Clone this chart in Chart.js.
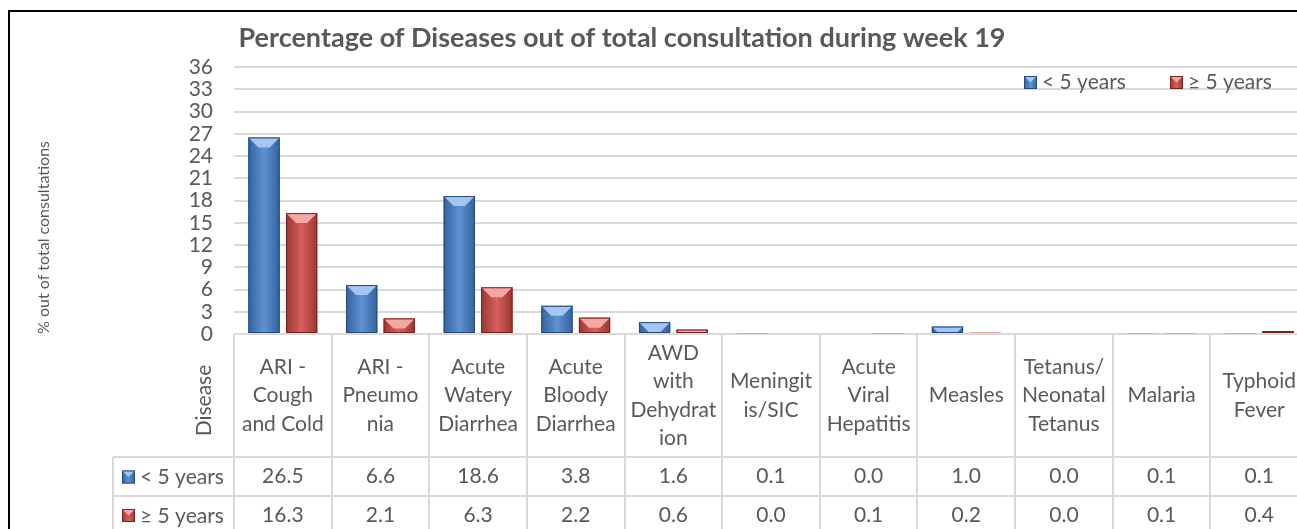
<!DOCTYPE html>
<html>
<head>
<meta charset="utf-8">
<script src="https://cdn.jsdelivr.net/npm/chart.js@4/dist/chart.umd.min.js"></script>
<style>
    html, body { margin: 0; padding: 0; background: #fff; overflow: hidden; }
    canvas { display: block; }
</style>
</head>
<body>
<canvas id="diseaseChart" width="1330" height="529"></canvas>
<script>
// 데이터
const chartTitle = 'Percentage of Diseases out of total consultation during week 19';
const categories = [
    ['ARI -', 'Cough', 'and Cold'],
    ['ARI -', 'Pneumo', 'nia'],
    ['Acute', 'Watery', 'Diarrhea'],
    ['Acute', 'Bloody', 'Diarrhea'],
    ['AWD', 'with', 'Dehydrat', 'ion'],
    ['Meningit', 'is/SIC'],
    ['Acute', 'Viral', 'Hepatitis'],
    ['Measles'],
    ['Tetanus/', 'Neonatal', 'Tetanus'],
    ['Malaria'],
    ['Typhoid', 'Fever']
];
const under5 = [26.5, 6.6, 18.6, 3.8, 1.6, 0.1, 0.0, 1.0, 0.0, 0.1, 0.1];
const over5 = [16.3, 2.1, 6.3, 2.2, 0.6, 0.0, 0.1, 0.2, 0.0, 0.1, 0.4];
const seriesNames = ['< 5 years', '≥ 5 years'];
const yMax = 36;
const yStep = 3;

const FONT = 'Lato, "DejaVu Sans", sans-serif';
const TEXT = '#595959';
const GRID = '#d9d9d9';
const palette = [
    { base: '#4f81bd', dark: '#33639f', light: '#5f92d2', bevel: '#a4c6f0', edge: '#264b78' },
    { base: '#c0504d', dark: '#9c3633', light: '#d6605d', bevel: '#f4a8a6', edge: '#772422' }
];

// 입체 막대 아이콘
function drawBevelBox(ctx, L, T, W, H, pal, depth) {
    const R = L + W;
    const g = ctx.createLinearGradient(L, 0, R, 0);
    g.addColorStop(0, pal.dark);
    g.addColorStop(0.5, pal.light);
    g.addColorStop(1, pal.dark);
    ctx.fillStyle = g;
    ctx.fillRect(L, T, W, H);
    const d = Math.min(depth, H, W / 2);
    ctx.fillStyle = pal.bevel;
    ctx.beginPath();
    ctx.moveTo(L, T);
    ctx.lineTo(R, T);
    ctx.lineTo(R - d, T + d);
    ctx.lineTo(L + d, T + d);
    ctx.closePath();
    ctx.fill();
    ctx.strokeStyle = pal.edge;
    ctx.lineWidth = 1;
    ctx.strokeRect(L + 0.5, T + 0.5, W - 1, Math.max(H - 1, 0));
}

const bevelBars = {
    id: 'bevelBars',
    afterDatasetsDraw(chart) {
        const ctx = chart.ctx;
        ctx.save();
        chart.data.datasets.forEach((ds, di) => {
            const meta = chart.getDatasetMeta(di);
            meta.data.forEach(bar => {
                const p = bar.getProps(['x', 'y', 'base', 'width'], true);
                const T = Math.min(p.y, p.base);
                const h = Math.abs(p.base - p.y);
                if (h < 0.5) return;
                drawBevelBox(ctx, p.x - p.width / 2, T, p.width, h, palette[di], 10);
            });
        });
        ctx.restore();
    }
};

// 제목, 범례, 데이터 표
const decorations = {
    id: 'decorations',
    beforeDraw(chart) {
        const ctx = chart.ctx;
        ctx.save();
        ctx.strokeStyle = '#000';
        ctx.lineWidth = 2;
        ctx.strokeRect(9, 11, 2000, 2000);
        ctx.restore();
    },
    afterDraw(chart) {
        const ctx = chart.ctx;
        const xs = chart.scales.x;
        const area = chart.chartArea;
        ctx.save();

        // 제목
        ctx.fillStyle = TEXT;
        ctx.font = 'bold 27px ' + FONT;
        ctx.textAlign = 'center';
        ctx.textBaseline = 'alphabetic';
        ctx.fillText(chartTitle, 622, 47);

        // 범례
        ctx.font = '21px ' + FONT;
        ctx.textAlign = 'left';
        ctx.textBaseline = 'middle';
        const legendX = [1024, 1170];
        seriesNames.forEach((name, i) => {
            drawBevelBox(ctx, legendX[i], 76, 13, 13, palette[i], 6);
            ctx.fillStyle = TEXT;
            ctx.fillText(name, legendX[i] + 18, 82);
        });

        // 표
        const n = categories.length;
        const w = (xs.right - xs.left) / n;
        const top = area.bottom;
        const headBottom = top + 123;
        const row1Bottom = headBottom + 39;
        const row2Bottom = row1Bottom + 38;
        const labelLeft = area.left - 121;

        ctx.strokeStyle = GRID;
        ctx.lineWidth = 2;
        ctx.beginPath();
        for (let i = 0; i <= n; i++) {
            const x = Math.round(xs.left + i * w);
            ctx.moveTo(x, top);
            ctx.lineTo(x, row2Bottom);
        }
        ctx.moveTo(labelLeft, headBottom);
        ctx.lineTo(labelLeft, row2Bottom);
        [headBottom, row1Bottom, row2Bottom].forEach(y => {
            ctx.moveTo(labelLeft, y);
            ctx.lineTo(xs.right, y);
        });
        ctx.stroke();

        ctx.fillStyle = TEXT;
        ctx.font = '21px ' + FONT;
        ctx.textAlign = 'center';
        ctx.textBaseline = 'middle';
        const lineH = 28.5;
        const headMid = (top + headBottom) / 2;
        categories.forEach((lines, i) => {
            const cx = xs.getPixelForValue(i);
            const y0 = headMid - (lines.length - 1) * lineH / 2;
            lines.forEach((t, k) => ctx.fillText(t, cx, y0 + k * lineH));
            ctx.fillText(under5[i].toFixed(1), cx, (headBottom + row1Bottom) / 2);
            ctx.fillText(over5[i].toFixed(1), cx, (row1Bottom + row2Bottom) / 2);
        });

        // 행 이름
        ctx.textAlign = 'left';
        [(headBottom + row1Bottom) / 2, (row1Bottom + row2Bottom) / 2].forEach((y, i) => {
            drawBevelBox(ctx, labelLeft + 9, y - 6, 13, 13, palette[i], 6);
            ctx.fillStyle = TEXT;
            ctx.fillText(seriesNames[i], labelLeft + 27, y + 1);
        });

        // 축 이름
        ctx.translate(area.left - 30, headMid + 5);
        ctx.rotate(-Math.PI / 2);
        ctx.textAlign = 'center';
        ctx.fillText('Disease', 0, 0);
        ctx.restore();
    }
};

const ctx = document.getElementById('diseaseChart').getContext('2d');
new Chart(ctx, {
    type: 'bar',
    data: {
        labels: categories,
        datasets: [
            { label: seriesNames[0], data: under5, backgroundColor: palette[0].base, borderWidth: 0 },
            { label: seriesNames[1], data: over5, backgroundColor: palette[1].base, borderWidth: 0 }
        ]
    },
    options: {
        responsive: false,
        animation: false,
        devicePixelRatio: 1,
        categoryPercentage: 0.77,
        barPercentage: 0.83,
        layout: { padding: { left: 30, top: 67, right: 22, bottom: 195 } },
        plugins: {
            legend: { display: false },
            tooltip: { enabled: false }
        },
        scales: {
            x: { display: false },
            y: {
                min: 0,
                max: yMax,
                afterFit: scale => { scale.width = 204; },
                ticks: {
                    stepSize: yStep,
                    autoSkip: false,
                    padding: 21,
                    color: TEXT,
                    font: { family: FONT, size: 21 }
                },
                grid: { color: GRID, lineWidth: 2, drawTicks: false },
                border: { display: false },
                title: {
                    display: true,
                    text: '% out of total consultations',
                    align: 'start',
                    color: TEXT,
                    font: { family: FONT, size: 16 }
                }
            }
        }
    },
    plugins: [bevelBars, decorations]
});
</script>
</body>
</html>
